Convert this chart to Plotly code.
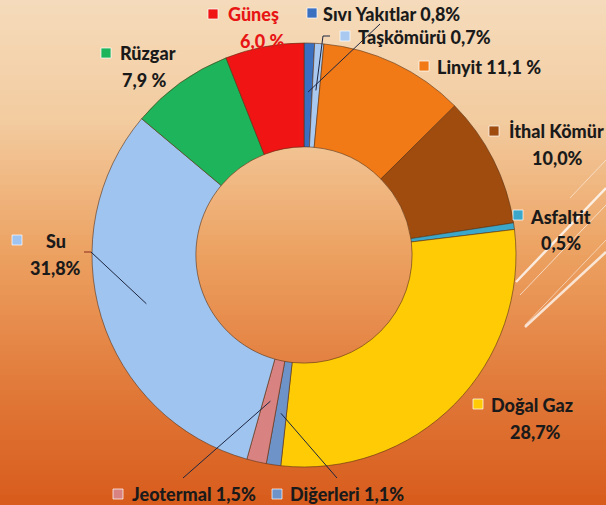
import math
import plotly.graph_objects as go

labels = ["Sıvı Yakıtlar", "Taşkömürü", "Linyit", "İthal Kömür", "Asfaltit",
          "Doğal Gaz", "Diğerleri", "Jeotermal", "Su", "Rüzgar", "Güneş"]
values = [0.8, 0.7, 11.1, 10.0, 0.5, 28.7, 1.1, 1.5, 31.8, 7.9, 6.0]
value_text = ["0,8%", "0,7%", "11,1 %", "10,0%", "0,5%", "28,7%", "1,1%", "1,5%", "31,8%", "7,9 %", "6,0 %"]
colors = ["#3b6fc0", "#a9c9f0", "#f27a16", "#a04c0e", "#3ba8cb",
          "#ffcb05", "#6d93c9", "#d98282", "#9fc4f0", "#1eb45b", "#f01414"]

W, H = 606, 505
CX, CY, R = 304, 255, 212
HOLE = 0.51

def px(x):
    return x / W

def py(y):
    return 1 - y / H

fig = go.Figure()
fig.add_trace(go.Pie(
    labels=labels, values=values, sort=False, direction="clockwise", rotation=0,
    hole=HOLE, textinfo="none", hoverinfo="label+percent",
    marker=dict(colors=colors, line=dict(color="rgba(90,50,20,0.6)", width=1)),
    domain=dict(x=[px(CX - R), px(CX + R)], y=[py(CY + R), py(CY - R)]),
    showlegend=False,
))

shapes = []
# background gradient (vertical bands)
stops = [(0, (246, 220, 188)), (120, (243, 204, 160)), (250, (237, 163, 99)),
         (380, (226, 124, 60)), (505, (216, 92, 28))]
nb = 101
for i in range(nb):
    y0 = i * H / nb
    y1 = (i + 1) * H / nb + 0.5
    ym = (y0 + y1) / 2
    for j in range(len(stops) - 1):
        if stops[j][0] <= ym <= stops[j + 1][0]:
            t = (ym - stops[j][0]) / (stops[j + 1][0] - stops[j][0])
            c = tuple(int(stops[j][1][k] + t * (stops[j + 1][1][k] - stops[j][1][k])) for k in range(3))
            break
    shapes.append(dict(type="rect", xref="paper", yref="paper", x0=0, x1=1,
                       y0=py(y1), y1=py(y0), fillcolor="rgb(%d,%d,%d)" % c,
                       line=dict(width=0), layer="below"))

# decorative white diagonal lines
for (x0, y0, x1, y1, w, op) in [(516, 282, 606, 188, 2.5, 0.8), (520, 295, 606, 205, 1, 0.6),
                                (525, 325, 606, 240, 1, 0.5), (525, 327, 606, 252, 2.5, 0.75),
                                (570, 198, 606, 160, 1, 0.5)]:
    shapes.append(dict(type="line", xref="paper", yref="paper", x0=px(x0), y0=py(y0),
                       x1=px(x1), y1=py(y1), line=dict(color="rgba(255,255,255,%.2f)" % op, width=w),
                       layer="below"))

# angles of slice mid points (clockwise from top)
total = sum(values)
mids = []
cum = 0
for v in values:
    mids.append((cum + v / 2) / total * 2 * math.pi)
    cum += v

def slice_point(i, r):
    a = mids[i]
    return CX + r * math.sin(a), CY - r * math.cos(a)

lc = "#1d2640"
def seg(x0, y0, x1, y1, color=lc):
    shapes.append(dict(type="line", xref="paper", yref="paper", x0=px(x0), y0=py(y0),
                       x1=px(x1), y1=py(y1), line=dict(color=color, width=1)))

# leader lines
sx, sy = slice_point(0, 163)
seg(380, 24, sx, sy)
tx, ty = slice_point(1, 165)
seg(tx, ty, 323, 36)
seg(323, 36, 330, 36)
ux, uy = slice_point(8, 165)
seg(84, 252, 91, 252, "#8a2a1a")
seg(91, 252, ux, uy)
jx, jy = slice_point(7, 150)
seg(183, 478, jx, jy)
dx, dy = slice_point(6, 160)
seg(337, 478, dx, dy)

# label layout: (square x, square y, kind, text x, y[, value x, value y])
label_pos = {
    0: (312, 13, "single", 321, 14),
    1: (345, 36, "single", 356, 37),
    2: (424, 66, "single", 435, 67),
    3: (494, 131, "double", 507, 131, 557, 158),
    4: (518, 215, "double", 528, 217, 561, 243),
    5: (478, 404, "double", 489, 405, 535, 432),
    6: (277, 494, "single", 288, 494),
    7: (118, 494, "single", 130, 494),
    8: (17, 240, "double", 44, 241, 55, 268),
    9: (106, 53, "double", 118, 53, 144, 80),
    10: (213, 14, "double", 226, 14, 262, 41),
}

annotations = []
FONT = "Lato"
FS = 18
for i, p in label_pos.items():
    sqx, sqy = p[0], p[1]
    shapes.append(dict(type="rect", xref="paper", yref="paper",
                       x0=px(sqx - 5), x1=px(sqx + 5), y0=py(sqy + 5), y1=py(sqy - 5),
                       fillcolor=colors[i], line=dict(color="rgba(255,255,255,0.7)", width=1)))
    tcolor = "#e81515" if i == 10 else "#1a1a1a"
    fnt = dict(family=FONT, size=FS, color=tcolor, weight=900)
    if p[2] == "single":
        annotations.append(dict(x=px(p[3]), y=py(p[4]), xref="paper", yref="paper",
                                text="%s %s" % (labels[i], value_text[i]), showarrow=False,
                                xanchor="left", yanchor="middle", font=fnt))
    else:
        annotations.append(dict(x=px(p[3]), y=py(p[4]), xref="paper", yref="paper",
                                text=labels[i], showarrow=False,
                                xanchor="left", yanchor="middle", font=fnt))
        annotations.append(dict(x=px(p[5]), y=py(p[6]), xref="paper", yref="paper",
                                text=value_text[i], showarrow=False,
                                xanchor="center", yanchor="middle", font=fnt))

fig.update_layout(width=W, height=H, margin=dict(l=0, r=0, t=0, b=0),
                  paper_bgcolor="#eca363", shapes=shapes, annotations=annotations)
fig.write_html("out.html", config={"displayModeBar": False},
               post_script="document.body.style.margin='0';document.body.style.overflow='hidden';")
